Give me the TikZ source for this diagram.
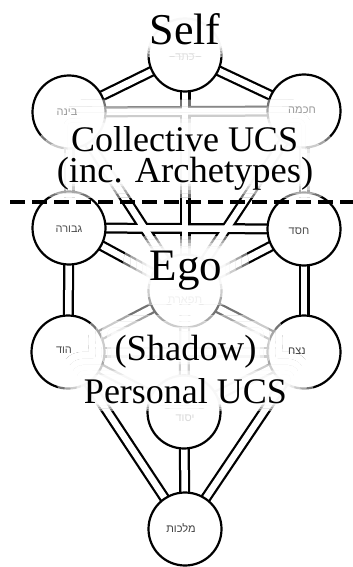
\documentclass[tikz,border=0pt]{standalone}
\usepackage{fontspec}
\setmainfont{Liberation Serif}
\newfontfamily\heb[Script=Hebrew]{Liberation Sans}
\TeXXeTstate=1
\pgfdeclarelayer{bg}
\pgfdeclarelayer{top}
\pgfsetlayers{bg,main,top}
\tikzset{
  sef/.style={circle, draw=black, line width=2.2pt, fill=white, minimum size=73pt, inner sep=0pt},
  ring/.style={circle, draw=#1, line width=2.2pt, fill=white, minimum size=73pt, inner sep=0pt},
  pathout/.style={line width=11pt, draw=#1},
  pathin/.style={line width=6.5pt, white},
  heblabel/.style={font=\heb\fontsize{11}{11}\selectfont, text=#1, inner sep=0pt},
  bigtext/.style={anchor=base, text=black, inner sep=0pt},
  divider/.style={line width=4.5pt, dash pattern=on 15pt off 7pt},
}
\newcommand\hb[1]{\beginR #1\endR}
\def\pathlist{keter/binah,keter/chokhmah,keter/tiferet,binah/chokhmah,binah/gevurah,
  binah/tiferet,chokhmah/chesed,chokhmah/tiferet,gevurah/chesed,gevurah/tiferet,gevurah/hod,
  chesed/tiferet,chesed/netzach,tiferet/hod,tiferet/netzach,tiferet/yesod,hod/netzach,
  hod/yesod,netzach/yesod,hod/malkhut,netzach/malkhut,yesod/malkhut}
% redraw the whole tree in one colour
\newcommand\drawtree[1]{%
  \foreach \pa/\pb in \pathlist {\draw[pathout=#1] (\pa.center) -- (\pb.center);}
  \foreach \pa/\pb in \pathlist {\draw[pathin] (\pa.center) -- (\pb.center);}
  \path (keter.center) node[ring=#1] {}
        (binah.center) node[ring=#1] {}
        (chokhmah.center) node[ring=#1] {}
        (gevurah.center) node[ring=#1] {}
        (chesed.center) node[ring=#1] {}
        (tiferet.center) node[ring=#1] {}
        (hod.center) node[ring=#1] {}
        (netzach.center) node[ring=#1] {}
        (yesod.center) node[ring=#1] {}
        (malkhut.center) node[ring=#1] {};
}
% padded box round a text: name, pad, top factor, bottom factor (from baseline)
\newcommand\glowrect[4]{([shift={({-#2},{-#4*#2})}]#1.base west) rectangle ([shift={({#2},{#3*#2})}]#1.north east)}
% one glow level: clip to the padded text boxes and redraw lighter
\newcommand\halolevel[2]{%
  \begin{scope}
    \clip[rounded corners=#1]
      \glowrect{self}{#1}{1}{0.45}
      \glowrect{coll}{#1}{1}{1}
      \glowrect{arch}{#1}{1}{0.6}
      \glowrect{ego}{#1}{0.55}{1.3}
      \glowrect{shadow}{#1}{1}{0.6}
      \glowrect{pers}{#1}{1}{0.3};
    \fill[white] (0,0) rectangle (353,567);
    \drawtree{#2}
  \end{scope}
}
\begin{document}
\begin{tikzpicture}[x=1pt,y=-1pt]
\useasboundingbox (0,0) rectangle (353,567);
\begin{pgfonlayer}{bg}
\fill[white] (0,0) rectangle (353,567);
\end{pgfonlayer}

% sefirot
\node[sef] (keter)    at (185,55)  {};
\node[sef] (binah)    at (69,112)  {};
\node[sef] (chokhmah) at (304,111) {};
\node[sef] (gevurah)  at (69,228)  {};
\node[sef] (chesed)   at (304,229) {};
\node[sef] (tiferet)  at (185,291) {};
\node[sef] (hod)      at (68,352)  {};
\node[sef] (netzach)  at (304,352) {};
\node[sef] (yesod)    at (184,412) {};
\node[sef] (malkhut)  at (185,529) {};

% paths
\begin{pgfonlayer}{bg}
\foreach \pa/\pb in \pathlist {\draw[pathout=black] (\pa.center) -- (\pb.center);}
\foreach \pa/\pb in \pathlist {\draw[pathin] (\pa.center) -- (\pb.center);}
\end{pgfonlayer}

% main texts (top layer)
\begin{pgfonlayer}{top}
\node[bigtext, font=\fontsize{44}{44}\selectfont] (self) at (185,45) {Self};
\node[bigtext, font=\fontsize{36}{36}\selectfont] (coll) at (184.5,151) {Collective UCS};
\node[bigtext, font=\fontsize{36.5}{36.5}\selectfont] (arch) at (185,182) {(inc. Archetypes)};
\node[bigtext, font=\fontsize{45}{45}\selectfont] (ego) at (186,280) {Ego};
\node[bigtext, font=\fontsize{36.5}{36.5}\selectfont] (shadow) at (185.5,360) {(Shadow)};
\node[bigtext, font=\fontsize{36}{36}\selectfont] (pers) at (185.5,403) {Personal UCS};
\coordinate (dl) at (10,202);
\coordinate (dr) at (353,202);
\draw[divider] (dl) -- (dr);
\end{pgfonlayer}

% glow around the texts, as lighter redraws
\halolevel{26pt}{black!55}
\halolevel{19pt}{black!35}
\halolevel{13pt}{black!20}
\halolevel{7pt}{black!9}
\halolevel{3pt}{black!3}

% hebrew labels
\node[heblabel=black!12] (l-keter)    at (185,57)  {\hb{כתר}};
\node[heblabel=black!40] (l-binah)    at (67,112)  {\hb{בינה}};
\node[heblabel=black!40] (l-chokhmah) at (302,110) {\hb{חכמה}};
\node[heblabel=black!70] (l-gevurah)  at (69,229)  {\hb{גבורה}};
\node[heblabel=black!70] (l-chesed)   at (299,231) {\hb{חסד}};
\node[heblabel=black!6]  (l-tiferet)  at (185,300) {\hb{תפארת}};
\node[heblabel=black!70] (l-hod)      at (64,350)  {\hb{הוד}};
\node[heblabel=black!75] (l-netzach)  at (297,351) {\hb{נצח}};
\node[heblabel=black!15] (l-yesod)    at (185,418) {\hb{יסוד}};
\node[heblabel=black!75] (l-malkhut)  at (181,528) {\hb{מלכות}};
\end{tikzpicture}
\end{document}
